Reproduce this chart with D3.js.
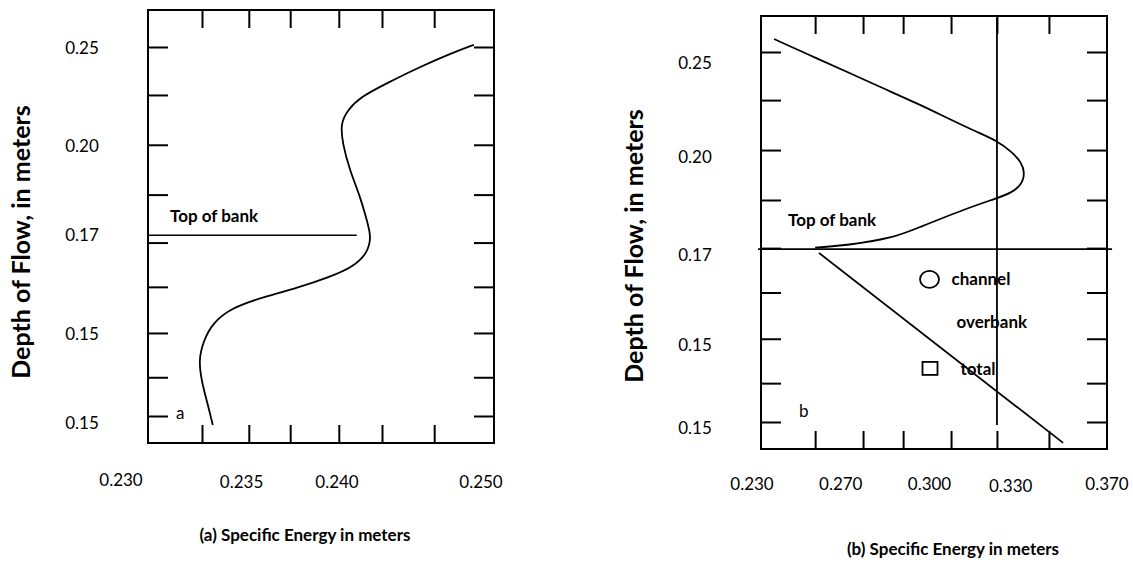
<!DOCTYPE html>
<html>
<head>
<meta charset="utf-8">
<script src="https://cdn.jsdelivr.net/npm/d3@7/dist/d3.min.js"></script>
<style>
  body { margin: 0; background: #fff; }
  text { font-family: Lato, "Open Sans", sans-serif; fill: #000; }
  .num { font-size: 17px; }
  .bold { font-weight: bold; }
  .tick line { stroke: #000; stroke-width: 2; }
</style>
</head>
<body>
<svg width="1133" height="562"></svg>
<script>
// ---- panel (a) ----
var energyA = [0.2496, 0.2484, 0.2466, 0.2448, 0.2433, 0.2426, 0.2422, 0.2423, 0.2427, 0.2433,
               0.2437, 0.2439, 0.2437, 0.2429, 0.2416, 0.2398, 0.2379, 0.2361, 0.2351, 0.2346,
               0.2343, 0.2345, 0.2348, 0.2351];
var depthA  = [0.2512, 0.2468, 0.2392, 0.2305, 0.2229, 0.2159, 0.2088, 0.1980, 0.1833, 0.1687,
               0.1546, 0.1470, 0.1384, 0.1308, 0.1253, 0.1194, 0.1145, 0.1085, 0.1004, 0.0912,
               0.0804, 0.0679, 0.0571, 0.0451];
var bankA = 0.148;
var bankSpanA = [0.2315, 0.2431];
var xTickA = [0.2345, 0.2371, 0.2394, 0.2421, 0.2445, 0.2474];
var xLabelA = ["0.230", "0.235", "0.240", "0.250"];
var xLabelAtA = [0.230, 0.2367, 0.2420, 0.250];
var yLabelAtA = [0.2495, 0.1965, 0.1481, 0.0944, 0.0462];

// ---- panel (b) ----
var energyB = [0.2387, 0.2555, 0.2687, 0.2817, 0.2950, 0.3081, 0.3186, 0.3265, 0.3324, 0.3363,
               0.3377, 0.3361, 0.3321, 0.3265, 0.3147, 0.2950, 0.2856, 0.2687, 0.2549];
var depthB  = [0.2570, 0.2466, 0.2385, 0.2304, 0.2223, 0.2136, 0.2068, 0.2021, 0.1961, 0.1903,
               0.1843, 0.1778, 0.1738, 0.1709, 0.1655, 0.1547, 0.1495, 0.1457, 0.1442];
var totalEnergyB = [0.2564, 0.3527];
var totalDepthB = [0.1414, 0.0387];
var criticalB = 0.3266;
var criticalSpanB = [0.0484, 0.2686];
var bankB = 0.1435;
var bankSpanB = [0.2324, 0.3720];
var xTickB = [0.2549, 0.2738, 0.2896, 0.3085, 0.3266, 0.3471];
var xLabelB = ["0.230", "0.270", "0.300", "0.330", "0.370"];
var xLabelAtB = [0.230, 0.265, 0.300, 0.332, 0.370];
var yLabelAtB = [0.2442, 0.1932, 0.1403, 0.0916, 0.0466];
var legendNames = ["channel", "overbank", "total"];
var legendDepth = [0.1271, 0.1040, 0.0787];

// shared
var yTick = [0.25, 0.224, 0.197, 0.17, 0.144, 0.12, 0.095, 0.071, 0.05];
var yLabel = ["0.25", "0.20", "0.17", "0.15", "0.15"];

var svg = d3.select("svg");

function frame(box, x, y, xTicks) {
    var g = svg.append("g");
    g.append("g").attr("transform", "translate(0," + box.top + ")")
     .call(d3.axisTop(x).tickValues(xTicks).tickSize(-18).tickFormat(""));
    g.append("g").attr("transform", "translate(0," + box.bottom + ")")
     .call(d3.axisBottom(x).tickValues(xTicks).tickSize(-18).tickFormat(""));
    g.append("g").attr("transform", "translate(" + box.left + ",0)")
     .call(d3.axisLeft(y).tickValues(yTick).tickSize(-20).tickFormat(""));
    g.append("g").attr("transform", "translate(" + box.right + ",0)")
     .call(d3.axisRight(y).tickValues(yTick).tickSize(-20).tickFormat(""));
    g.selectAll(".domain").remove();
    g.append("rect")
     .attr("x", box.left).attr("y", box.top)
     .attr("width", box.right - box.left).attr("height", box.bottom - box.top)
     .attr("fill", "none").attr("stroke", "#000").attr("stroke-width", 2);
    return g;
}

// ---- draw (a) ----
var boxA = {left: 148, right: 494, top: 10, bottom: 443};
var xA = d3.scaleLinear().domain([0.230, 0.250]).range([121, 481]);
var yA = d3.scaleLinear().domain([0.05, 0.25]).range([416, 47]);
var gA = frame(boxA, xA, yA, xTickA);

var lineA = d3.line()
    .x(function(d) { return xA(d[0]); })
    .y(function(d) { return yA(d[1]); })
    .curve(d3.curveBasis);

gA.append("path")
  .attr("d", lineA(d3.zip(energyA, depthA)))
  .attr("fill", "none").attr("stroke", "#000").attr("stroke-width", 1.8);

gA.append("line")
  .attr("x1", xA(bankSpanA[0])).attr("x2", xA(bankSpanA[1]))
  .attr("y1", yA(bankA)).attr("y2", yA(bankA))
  .attr("stroke", "#000").attr("stroke-width", 1.5);

gA.append("text").attr("class", "bold").style("font-size", "17px")
  .attr("x", 170).attr("y", 222).text("Top of bank");
gA.append("text").attr("class", "num").attr("x", 176).attr("y", 419).text("a");

gA.selectAll(".xl").data(xLabelA).enter().append("text")
  .attr("class", "num").attr("text-anchor", "middle")
  .attr("x", function(d, i) { return xA(xLabelAtA[i]); })
  .attr("y", function(d, i) { return i == 0 ? 486 : 488; })
  .text(function(d) { return d; });

gA.selectAll(".yl").data(yLabel).enter().append("text")
  .attr("class", "num").attr("text-anchor", "middle")
  .attr("x", 82).attr("dy", "0.35em")
  .attr("y", function(d, i) { return yA(yLabelAtA[i]); })
  .text(function(d) { return d; });

gA.append("text").attr("class", "bold").style("font-size", "25px")
  .attr("text-anchor", "middle")
  .attr("transform", "translate(30,242) rotate(-90)")
  .text("Depth of Flow, in meters");

gA.append("text").attr("class", "bold").style("font-size", "17px")
  .attr("text-anchor", "middle").attr("x", 305).attr("y", 541)
  .text("(a) Specific Energy in meters");

// ---- draw (b) ----
var boxB = {left: 761, right: 1107, top: 16, bottom: 449};
var xB = d3.scaleLinear().domain([0.230, 0.370]).range([752, 1107]);
var yB = d3.scaleLinear().domain([0.05, 0.25]).range([422, 52]);
var gB = frame(boxB, xB, yB, xTickB);

var lineB = d3.line()
    .x(function(d) { return xB(d[0]); })
    .y(function(d) { return yB(d[1]); })
    .curve(d3.curveBasis);

gB.append("path")
  .attr("d", lineB(d3.zip(energyB, depthB)))
  .attr("fill", "none").attr("stroke", "#000").attr("stroke-width", 1.8);

gB.append("path")
  .attr("d", d3.line().x(function(d) { return xB(d[0]); }).y(function(d) { return yB(d[1]); })(d3.zip(totalEnergyB, totalDepthB)))
  .attr("fill", "none").attr("stroke", "#000").attr("stroke-width", 1.8);

gB.append("line")
  .attr("x1", xB(criticalB)).attr("x2", xB(criticalB))
  .attr("y1", yB(criticalSpanB[1])).attr("y2", yB(criticalSpanB[0]))
  .attr("stroke", "#000").attr("stroke-width", 1.8);

gB.append("line")
  .attr("x1", xB(bankSpanB[0])).attr("x2", xB(bankSpanB[1]))
  .attr("y1", yB(bankB)).attr("y2", yB(bankB))
  .attr("stroke", "#000").attr("stroke-width", 1.8);

gB.append("text").attr("class", "bold").style("font-size", "17px")
  .attr("x", 788).attr("y", 226).text("Top of bank");
gB.append("text").attr("class", "num").attr("x", 799).attr("y", 417).text("b");

// legend
var lx = xB(0.300);
gB.append("ellipse").attr("cx", lx).attr("cy", yB(legendDepth[0]))
  .attr("rx", 9.5).attr("ry", 8.5)
  .attr("fill", "none").attr("stroke", "#000").attr("stroke-width", 1.8);
gB.append("rect").attr("x", lx - 7).attr("y", yB(legendDepth[2]) - 7)
  .attr("width", 15).attr("height", 13)
  .attr("fill", "none").attr("stroke", "#000").attr("stroke-width", 1.8);
gB.selectAll(".lg").data(legendNames).enter().append("text")
  .attr("class", "bold").style("font-size", "17px")
  .attr("x", function(d, i) { return lx + [22, 27, 31][i]; })
  .attr("y", function(d, i) { return yB(legendDepth[i]); })
  .attr("dy", "0.35em")
  .text(function(d) { return d; });

gB.selectAll(".xl").data(xLabelB).enter().append("text")
  .attr("class", "num").attr("text-anchor", "middle")
  .attr("x", function(d, i) { return xB(xLabelAtB[i]); })
  .attr("y", function(d, i) { return i == 3 ? 492 : 490; })
  .text(function(d) { return d; });

gB.selectAll(".yl").data(yLabel).enter().append("text")
  .attr("class", "num").attr("text-anchor", "middle")
  .attr("x", 695).attr("dy", "0.35em")
  .attr("y", function(d, i) { return yB(yLabelAtB[i]); })
  .text(function(d) { return d; });

gB.append("text").attr("class", "bold").style("font-size", "25px")
  .attr("text-anchor", "middle")
  .attr("transform", "translate(643,246) rotate(-90)")
  .text("Depth of Flow, in meters");

gB.append("text").attr("class", "bold").style("font-size", "17px")
  .attr("text-anchor", "middle").attr("x", 953).attr("y", 555)
  .text("(b) Specific Energy in meters");
</script>
</body>
</html>
